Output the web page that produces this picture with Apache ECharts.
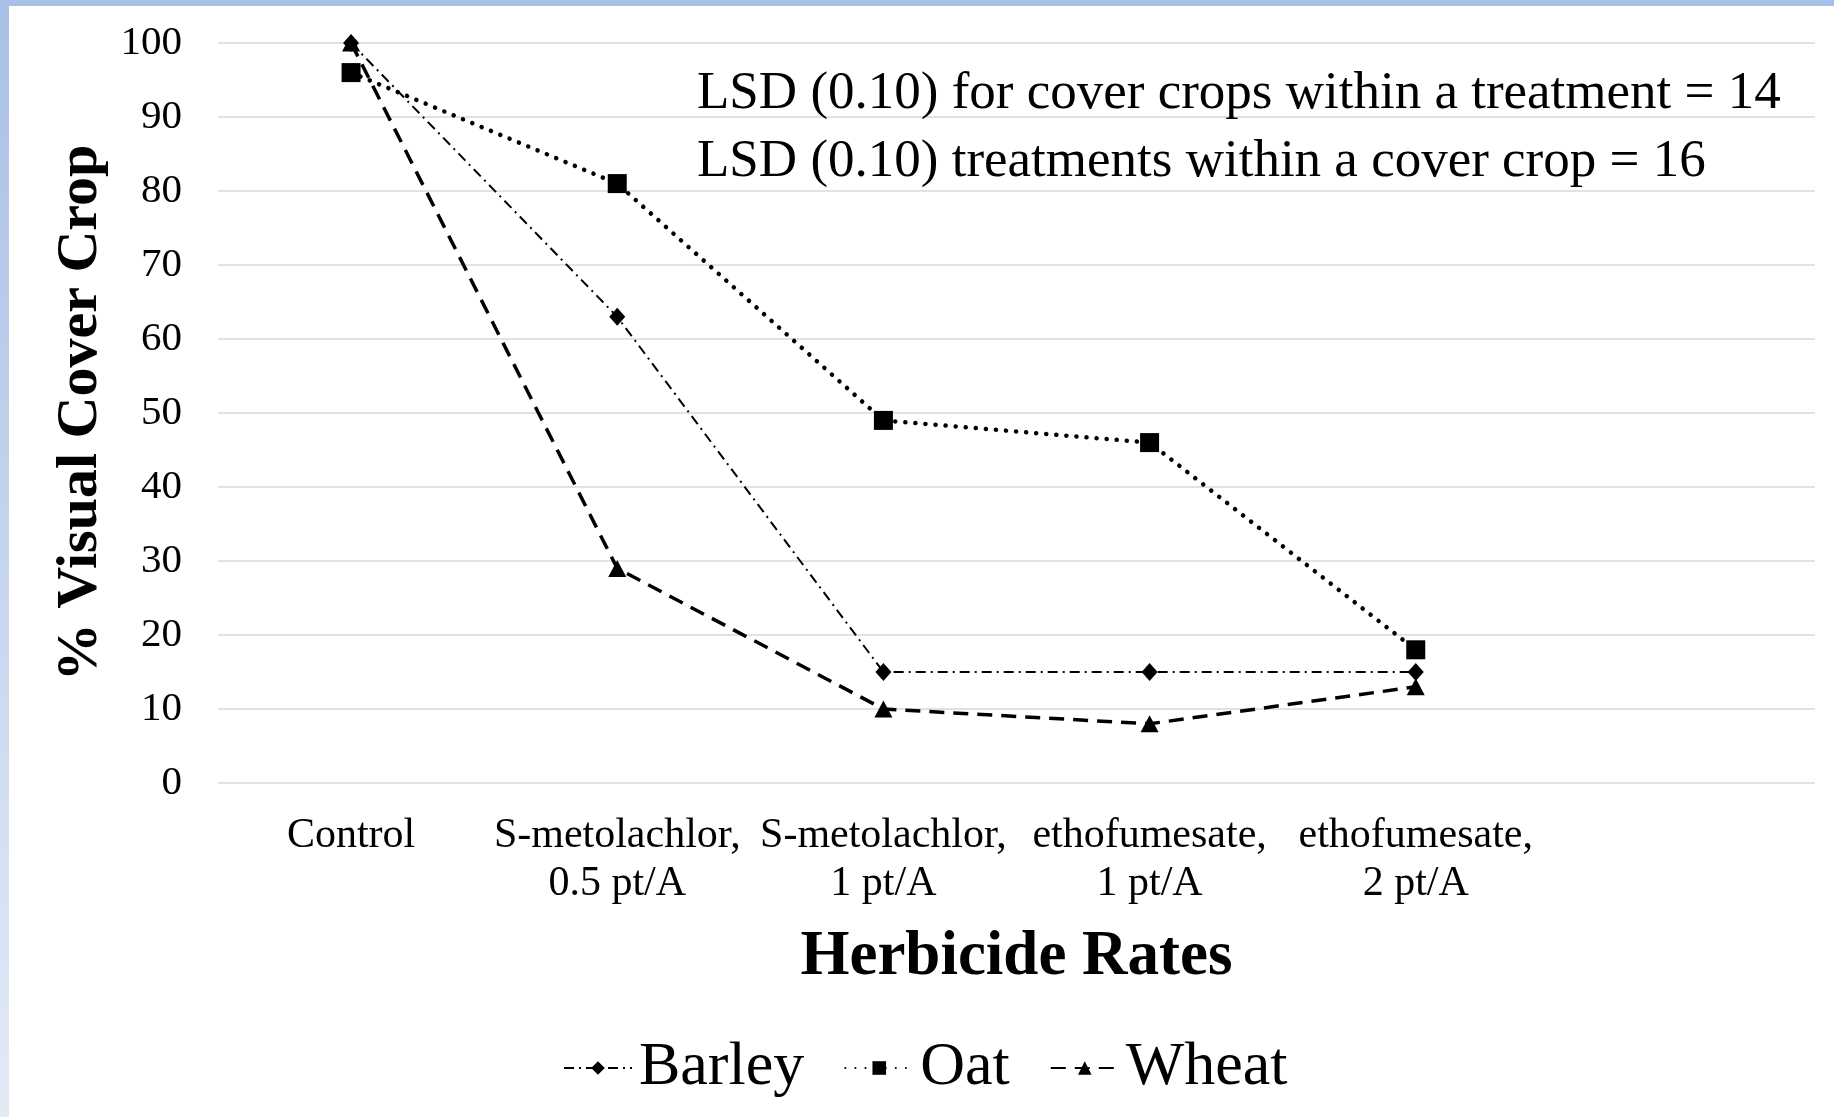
<!DOCTYPE html>
<html>
<head>
<meta charset="utf-8">
<script src="https://cdn.jsdelivr.net/npm/echarts@6/dist/echarts.min.js"></script>
<style>
    html, body { margin: 0; padding: 0; background: #fff; }
    #chart { width: 1834px; height: 1117px; }
</style>
</head>
<body>
<div id="chart"></div>
<script>
// herbicide treatments (last slot is empty on the original axis)
const categories = [
    'Control',
    'S-metolachlor,\n0.5 pt/A',
    'S-metolachlor,\n1 pt/A',
    'ethofumesate,\n1 pt/A',
    'ethofumesate,\n2 pt/A',
    ''
];
const barley = [100, 63, 15, 15, 15];
const oat = [96, 81, 49, 46, 18];
const wheat = [100, 29, 10, 8, 13];
const yTicks = { min: 0, max: 100, interval: 10 };
const lsdLines = [
    'LSD (0.10) for cover crops within a treatment = 14',
    'LSD (0.10) treatments within a cover crop = 16'
];

const serif = '"Liberation Serif", "Times New Roman", serif';

let myChart = echarts.init(document.getElementById('chart'));
let option = {
    backgroundColor: '#fff',
    animation: false,
    textStyle: { fontFamily: serif, color: '#000' },
    grid: { left: 218, right: 19, top: 43, bottom: 334, containLabel: false },
    legend: {
        left: 558,
        top: 1032,
        itemWidth: 68,
        itemHeight: 17,
        itemGap: 40,
        textStyle: { fontFamily: serif, fontSize: 62, color: '#000', padding: [0, 0, 0, 2] },
        data: ['Barley', 'Oat', 'Wheat']
    },
    xAxis: {
        type: 'category',
        data: categories,
        boundaryGap: true,
        axisLine: { show: false },
        axisTick: { show: false },
        axisLabel: {
            interval: 0,
            margin: 29,
            fontFamily: serif,
            fontSize: 42,
            lineHeight: 48,
            color: '#000'
        },
        name: 'Herbicide Rates',
        nameLocation: 'middle',
        nameGap: 143,
        nameTextStyle: { fontFamily: serif, fontSize: 63, fontWeight: 'bold', color: '#000' }
    },
    yAxis: {
        type: 'value',
        min: yTicks.min,
        max: yTicks.max,
        interval: yTicks.interval,
        axisLine: { show: false },
        axisTick: { show: false },
        splitLine: { lineStyle: { color: '#d9d9d9', width: 1.5 } },
        axisLabel: { margin: 36, fontFamily: serif, fontSize: 41, color: '#000' },
        name: '% Visual Cover Crop',
        nameLocation: 'middle',
        nameRotate: 90,
        nameGap: 105,
        nameTextStyle: { fontFamily: serif, fontSize: 58, fontWeight: 'bold', color: '#000' }
    },
    graphic: [
        {
            type: 'rect', z: 100, silent: true,
            shape: { x: 0, y: 0, width: 9, height: 1117 },
            style: {
                fill: new echarts.graphic.LinearGradient(0, 0, 0, 1, [
                    { offset: 0, color: '#a9c0e6' },
                    { offset: 1, color: '#e3eaf6' }
                ])
            }
        },
        {
            type: 'rect', z: 100, silent: true,
            shape: { x: 0, y: 0, width: 1834, height: 6 },
            style: { fill: '#a9c0e6' }
        },
        {
            type: 'text', z: 100, silent: true,
            style: { x: 697, y: 94, text: lsdLines[0], font: '53px ' + serif, fill: '#000', verticalAlign: 'middle' }
        },
        {
            type: 'text', z: 100, silent: true,
            style: { x: 697, y: 162, text: lsdLines[1], font: '53px ' + serif, fill: '#000', verticalAlign: 'middle' }
        }
    ],
    series: [
        {
            name: 'Barley',
            type: 'line',
            data: barley,
            symbol: 'diamond',
            symbolSize: [16, 18],
            itemStyle: { color: '#000' },
            lineStyle: { color: '#000', width: 2, type: [10, 5, 2, 5] }
        },
        {
            name: 'Oat',
            type: 'line',
            data: oat,
            symbol: 'rect',
            symbolSize: 19,
            itemStyle: { color: '#000' },
            lineStyle: { color: '#000', width: 4.5, type: [0.1, 10], cap: 'round' }
        },
        {
            name: 'Wheat',
            type: 'line',
            data: wheat,
            symbol: 'triangle',
            symbolSize: [18, 17],
            itemStyle: { color: '#000' },
            lineStyle: { color: '#000', width: 3.5, type: [15, 9] }
        }
    ]
};
myChart.setOption(option);
</script>
</body>
</html>
